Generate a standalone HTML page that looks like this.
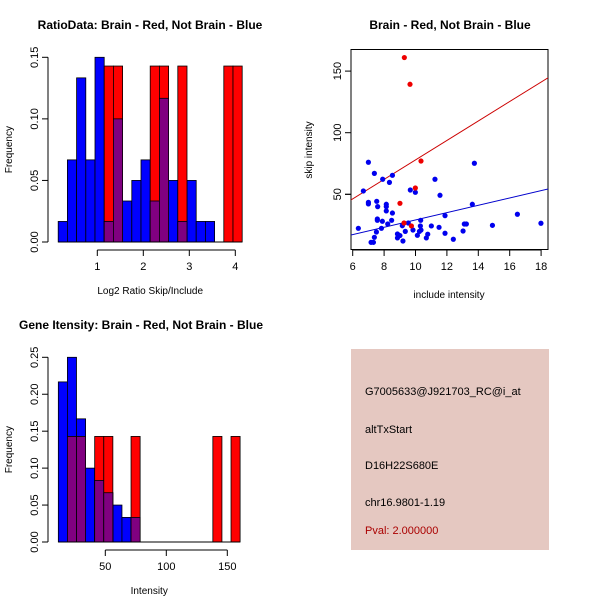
<!DOCTYPE html>
<html><head><meta charset="utf-8"><style>
body{margin:0;background:#fff}
svg{display:block;font-family:"Liberation Sans",sans-serif}
</style></head><body>
<svg id="c" width="600" height="600" xmlns="http://www.w3.org/2000/svg"></svg>
<script>
// Ratio histogram data
const ratioStart = 0.15, ratioBin = 0.2;
const ratioBlue = [0.0167,0.0667,0.1333,0.0667,0.15,0.0167,0.1,0.0333,0.05,0.0667,0.0333,0.1167,0.05,0.0167,0.05,0.0167,0.0167,0,0,0];
const ratioRed = [0,0,0,0,0,0.1429,0.1429,0,0,0,0.1429,0.1429,0,0.1429,0,0,0,0,0.1429,0.1429];
const ratioXTicks = [1,2,3,4];
const ratioYTicks = ["0.00","0.05","0.10","0.15"];
// Intensity histogram data
const intStart = 11.5, intBin = 7.45;
const intBlue = [0.2167,0.25,0.1667,0.1,0.0833,0.0667,0.05,0.0333,0.0333,0,0,0,0,0,0,0,0,0,0,0];
const intRed = [0,0.1429,0.1429,0,0.1429,0.1429,0,0,0.1429,0,0,0,0,0,0,0,0,0.1429,0,0.1429];
const intXTicks = [50,100,150];
const intYTicks = ["0.00","0.05","0.10","0.15","0.20","0.25"];
// Scatter data
const redX = [9.29,9.65,10.35,9.99,9.01,9.27,9.74];
const redY = [161,139.3,77,55.1,42.7,26.7,24.3];
const blueX = [6.36,6.68,7.0,7.0,7.0,7.38,7.53,7.59,7.91,8.53,8.34,8.14,8.14,8.14,8.53,7.57,7.57,7.89,8.23,8.48,7.83,7.51,7.38,7.17,7.32,8.85,8.85,9.01,9.2,9.16,9.35,9.54,9.84,10.12,10.31,10.33,10.35,10.25,9.67,9.99,10.78,10.69,11.01,11.24,11.56,11.5,11.88,11.88,12.41,13.03,13.11,13.24,13.62,13.75,14.9,16.49,17.99];
const blueY = [22.4,52.7,76,43.5,42.2,67,44.3,40,62.2,65.4,59.7,41.9,40,36.5,34.8,30,28.9,28.1,25.9,28.9,22.4,19.4,15.1,11,11,17.8,14.6,16.5,12.1,24.5,19.9,26.7,21,16.7,24.3,28.9,21,19.9,53.5,51.6,17.6,14.6,24.3,62.2,49.2,23.2,32.7,18.4,13.5,20.2,25.9,25.9,41.9,75.2,24.8,33.8,26.5];
const redLine = [-1.1, 7.9];
const blueLine = [-0.5, 2.97];
const scXTicks = [6,8,10,12,14,16,18];
const scYTicks = [50,100,150];

const svg = document.getElementById('c');
const NS = 'http://www.w3.org/2000/svg';
function mk(tag, attrs, parent){const e=document.createElementNS(NS,tag);for(const k in attrs)e.setAttribute(k,attrs[k]);(parent||svg).appendChild(e);return e;}
function txt(s,x,y,o,parent){const e=mk('text',Object.assign({x:x,y:y,'font-size':11,fill:'#000'},o||{}),parent);e.textContent=s;return e;}

function hist(name,start,bin,blue,red,sx,sy,xticks,yticks,yTickVals,title,xlab,titleX,titleY,xl,yl,axisY){
  const g=mk('g',{});
  
  
  for(let i=0;i<blue.length;i++){
    const x0=sx(start+i*bin), x1=sx(start+(i+1)*bin);
    if(blue[i]>0){const r=mk('rect',{x:x0,y:sy(blue[i]),width:x1-x0,height:sy(0)-sy(blue[i]),fill:'#0000ff',stroke:'#000','stroke-width':0.8},g);
      }
  }
  for(let i=0;i<red.length;i++){
    const x0=sx(start+i*bin), x1=sx(start+(i+1)*bin);
    if(red[i]>0){const r=mk('rect',{x:x0,y:sy(red[i]),width:x1-x0,height:sy(0)-sy(red[i]),fill:'#ff0000',stroke:'#000','stroke-width':0.8},g);
      
      const m=Math.min(red[i],blue[i]);
      if(m>0){const p=mk('rect',{x:x0,y:sy(m),width:x1-x0,height:sy(0)-sy(m),fill:'#800080',stroke:'#000','stroke-width':0.8},g);
        }
    }
  }
  // y axis
  const yv=yTickVals;
  mk('line',{x1:xl,x2:xl,y1:sy(yv[0]),y2:sy(yv[yv.length-1]),stroke:'#000'},g);
  yv.forEach((v,i)=>{mk('line',{x1:xl-6,x2:xl,y1:sy(v),y2:sy(v),stroke:'#000'},g);
    const t=txt(yticks[i],0,0,{transform:`translate(${xl-10},${sy(v)}) rotate(-90)`,'text-anchor':'middle'},g);});
  // baseline
  mk('line',{x1:sx(start),x2:sx(start+blue.length*bin),y1:sy(0),y2:sy(0),stroke:'#000'},g);
  // x axis
  mk('line',{x1:sx(xticks[0]),x2:sx(xticks[xticks.length-1]),y1:axisY,y2:axisY,stroke:'#000'},g);
  xticks.forEach(v=>{mk('line',{x1:sx(v),x2:sx(v),y1:axisY,y2:axisY+6,stroke:'#000'},g);txt(String(v),sx(v),axisY+20,{'text-anchor':'middle'},g);});
  const t=txt(title,titleX,titleY,{'font-weight':'bold','font-size':12,'text-anchor':'middle'},g);
  
  txt(xlab,(sx(start)+sx(start+blue.length*bin))/2,axisY+44,{'text-anchor':'middle','font-size':10},g);
  txt('Frequency',0,0,{transform:`translate(12,${(sy(0)+sy(yv[yv.length-1]))/2}) rotate(-90)`,'text-anchor':'middle','font-size':10},g);
}

// histogram 1
const sx1=v=>97.3+(v-1)*46, sy1=v=>242-v*(242-57.3)/0.15;
hist('ratio-histogram',ratioStart,ratioBin,ratioBlue,ratioRed,sx1,sy1,ratioXTicks,ratioYTicks,[0,0.05,0.1,0.15],'RatioData: Brain - Red, Not Brain - Blue','Log2 Ratio Skip/Include',150,29,48,0,250);
// histogram 2
const sx2=v=>105.3+(v-50)*1.22, sy2=v=>542-v*(542-357.3)/0.25;
hist('intensity-histogram',intStart,intBin,intBlue,intRed,sx2,sy2,intXTicks,intYTicks,[0,0.05,0.1,0.15,0.2,0.25],'Gene Itensity: Brain - Red, Not Brain - Blue','Intensity',141,329,48,0,550);

// scatter
const sxs=v=>352.7+(v-6)*15.7, sys=v=>255.9-v*1.232;
const gs=mk('g',{});


mk('rect',{x:351,y:49.5,width:197,height:200,fill:'none',stroke:'#000'},gs);
const clip=mk('clipPath',{id:'cp'},gs);mk('rect',{x:351,y:49.5,width:197,height:200},clip);
const lines=mk('g',{'clip-path':'url(#cp)'},gs);
[[redLine,'#cc0000','red-fit-line'],[blueLine,'#0000cc','blue-fit-line']].forEach(([l,c,n])=>{
  const ln=mk('line',{x1:sxs(5),y1:sys(l[0]+l[1]*5),x2:sxs(19),y2:sys(l[0]+l[1]*19),stroke:c,'stroke-width':1},lines);
  
});
blueX.forEach((x,i)=>{const c=mk('circle',{cx:sxs(x),cy:sys(blueY[i]),r:2.6,fill:'#0000ee'},gs);
  });
redX.forEach((x,i)=>{const c=mk('circle',{cx:sxs(x),cy:sys(redY[i]),r:2.6,fill:'#ee0000'},gs);
  });
mk('line',{x1:sxs(6),x2:sxs(18),y1:250,y2:250,stroke:'#000'},gs);
scXTicks.forEach(v=>{mk('line',{x1:sxs(v),x2:sxs(v),y1:250,y2:256,stroke:'#000'},gs);txt(String(v),sxs(v),270,{'text-anchor':'middle'},gs);});
mk('line',{x1:345,x2:351,y1:sys(50),y2:sys(50),stroke:'#000'},gs);
mk('line',{x1:351,x2:351,y1:sys(50),y2:sys(150),stroke:'#000'},gs);
scYTicks.forEach(v=>{mk('line',{x1:345,x2:351,y1:sys(v),y2:sys(v),stroke:'#000'},gs);txt(String(v),0,0,{transform:`translate(341,${sys(v)}) rotate(-90)`,'text-anchor':'middle'},gs);});
const st=txt('Brain - Red, Not Brain - Blue',450,29,{'font-weight':'bold','font-size':12,'text-anchor':'middle'},gs);

txt('include intensity',449,298,{'text-anchor':'middle','font-size':10},gs);
txt('skip intensity',0,0,{transform:'translate(312,150) rotate(-90)','text-anchor':'middle','font-size':10},gs);
</script>
<div style="position:absolute;left:351px;top:349px;width:198px;height:201px;background:#e5c8c1;font-family:'Liberation Sans',sans-serif;font-size:11px">
<div style="position:absolute;left:14px;top:37px">G7005633@J921703_RC@i_at</div>
<div style="position:absolute;left:14px;top:75px">altTxStart</div>
<div style="position:absolute;left:14px;top:111px">D16H22S680E</div>
<div style="position:absolute;left:14px;top:148px">chr16.9801-1.19</div>
<div style="position:absolute;left:14px;top:176px;color:#aa0000">Pval: 2.000000</div>
</div>
</body></html>
